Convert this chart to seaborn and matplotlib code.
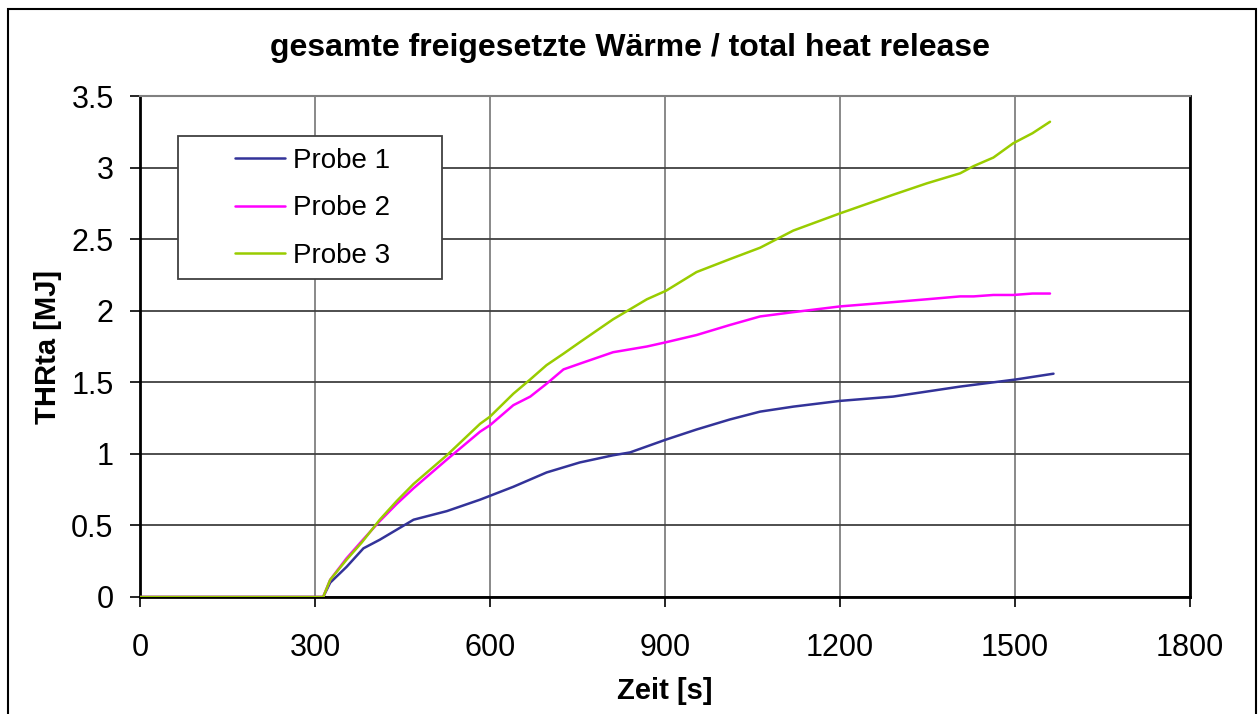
import pandas as pd
import matplotlib
matplotlib.use('Agg')
import matplotlib.pyplot as plt
from matplotlib.patches import Rectangle
from matplotlib.ticker import FuncFormatter
import seaborn as sns


# Probe 1
zeit_1 = [0, 314, 326, 354, 383, 411, 440, 469, 526, 583, 640, 697, 754, 811, 840,
          902, 954, 1011, 1063, 1120, 1200, 1291, 1406, 1502, 1566]
thr_1 = [0, 0, 0.10, 0.21, 0.34, 0.40, 0.47, 0.54, 0.60, 0.68, 0.77, 0.87, 0.94, 0.99, 1.01,
         1.10, 1.17, 1.24, 1.295, 1.33, 1.37, 1.40, 1.47, 1.52, 1.56]

# Probe 2 and 3 share the same time points
zeit_23 = [0, 314, 326, 354, 380, 411, 440, 469, 526, 583, 600, 640, 669, 697, 726, 754,
           811, 869, 902, 954, 1011, 1063, 1120, 1200, 1291, 1349, 1406, 1429, 1463, 1497,
           1530, 1560]
thr_2 = [0, 0, 0.12, 0.27, 0.39, 0.53, 0.65, 0.76, 0.96, 1.155, 1.20, 1.34, 1.40, 1.49, 1.59, 1.63,
         1.71, 1.75, 1.78, 1.83, 1.90, 1.96, 1.99, 2.03, 2.06, 2.08, 2.10, 2.10, 2.11, 2.11,
         2.12, 2.12]
thr_3 = [0, 0, 0.12, 0.26, 0.38, 0.54, 0.67, 0.79, 0.99, 1.21, 1.26, 1.42, 1.52, 1.62, 1.70, 1.78,
         1.94, 2.08, 2.14, 2.27, 2.36, 2.44, 2.56, 2.68, 2.81, 2.89, 2.96, 3.01, 3.07, 3.17,
         3.24, 3.32]

probe_names = ['Probe 1', 'Probe 2', 'Probe 3']
probe_colors = ['#333399', '#FF00FF', '#99CC00']
x_ticks = [0, 300, 600, 900, 1200, 1500, 1800]
y_ticks = [0, 0.5, 1, 1.5, 2, 2.5, 3, 3.5]

# long format for seaborn
df = pd.concat([
    pd.DataFrame({'Zeit': zeit_1, 'THR': thr_1, 'Probe': probe_names[0]}),
    pd.DataFrame({'Zeit': zeit_23, 'THR': thr_2, 'Probe': probe_names[1]}),
    pd.DataFrame({'Zeit': zeit_23, 'THR': thr_3, 'Probe': probe_names[2]}),
], ignore_index=True)

sns.set_style('white')
plt.rcParams['font.family'] = ['Liberation Sans', 'DejaVu Sans']
plt.rcParams['text.color'] = 'black'
plt.rcParams['axes.labelcolor'] = 'black'
plt.rcParams['xtick.color'] = 'black'
plt.rcParams['ytick.color'] = 'black'

fig = plt.figure(figsize=(12.6, 7.14), dpi=100)
ax = fig.add_axes([140 / 1260, 1 - 597 / 714, 1050 / 1260, 501 / 714])

sns.lineplot(data=df, x='Zeit', y='THR', hue='Probe', palette=probe_colors,
             linewidth=1.8, ax=ax, legend=False, zorder=3)

ax.set_xlim(0, 1800)
ax.set_ylim(0, 3.5)
ax.set_xticks(x_ticks)
ax.set_yticks(y_ticks)
ax.yaxis.set_major_formatter(FuncFormatter(lambda v, p: f'{v:g}'))
ax.tick_params(axis='both', labelsize=22, direction='out', length=7, width=1.2,
               color='black', left=True, bottom=True)
ax.tick_params(axis='x', pad=19)
ax.tick_params(axis='y', pad=12)

ax.grid(axis='x', color='#808080', linewidth=1.3, zorder=0)
ax.grid(axis='y', color='#404040', linewidth=1.3, zorder=0)
ax.set_axisbelow(True)

for side in ['left', 'bottom', 'right']:
    ax.spines[side].set_color('black')
    ax.spines[side].set_linewidth(2)
ax.spines['top'].set_color('#808080')
ax.spines['top'].set_linewidth(1.5)

ax.set_xlabel('Zeit [s]', fontsize=21, fontweight='bold', labelpad=10)
ax.set_ylabel('THRta [MJ]', fontsize=21, fontweight='bold', labelpad=7)

# legend: frameless entries plus a separate box like Excel
handles = [plt.Line2D([], [], color=c, linewidth=1.8) for c in probe_colors]
leg = ax.legend(handles, probe_names, loc='upper left', bbox_to_anchor=(0.0905, 0.897),
                frameon=False, fontsize=20, handlelength=1.8, handletextpad=0.3,
                labelspacing=0.78, borderpad=0, borderaxespad=0)
ax.add_patch(Rectangle((38 / 1050, 318 / 501), 264 / 1050, 143 / 501, transform=ax.transAxes,
                       facecolor='white', edgecolor='#404040', linewidth=1.3, zorder=4))
leg.set_zorder(5)

fig.text(0.5, 1 - 48 / 714, 'gesamte freigesetzte Wärme / total heat release',
         ha='center', va='center', fontsize=23, fontweight='bold')

# outer chart border
fig.patches.append(Rectangle((8 / 1260, -0.02), 1248 / 1260, 0.02 + 705 / 714,
                             transform=fig.transFigure, fill=False,
                             edgecolor='black', linewidth=1.5))

fig.savefig('out.png', dpi=100)
